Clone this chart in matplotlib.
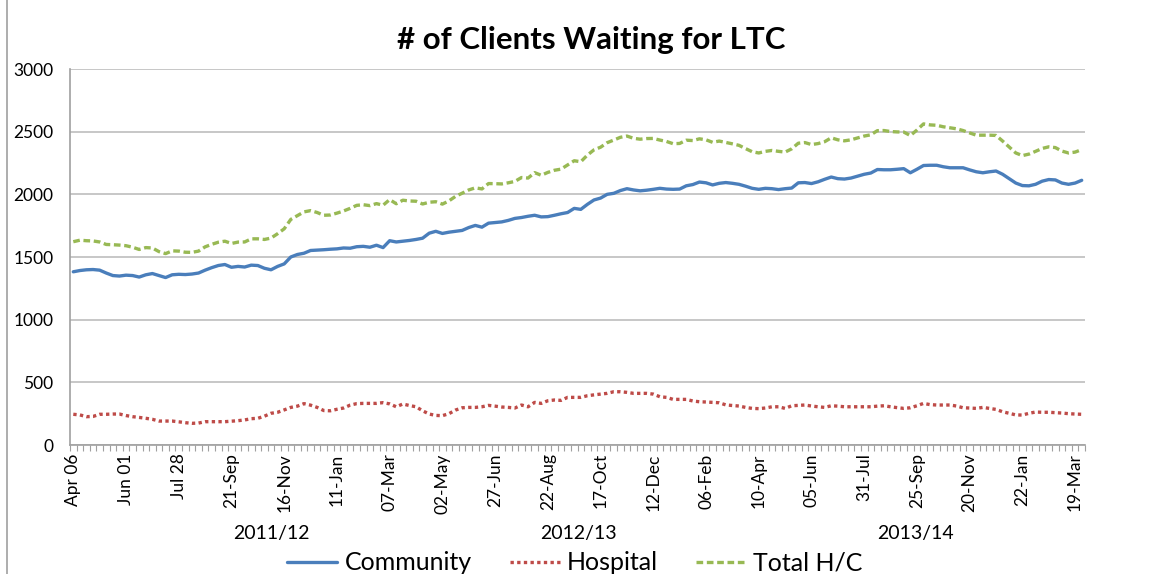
import matplotlib
matplotlib.use("Agg")
import matplotlib.pyplot as plt
from matplotlib.lines import Line2D

plt.rcParams['font.family'] = ['Lato', 'DejaVu Sans']

title = "# of Clients Waiting for LTC"
tick_labels = ["Apr 06", "Jun 01", "Jul 28", "21-Sep", "16-Nov", "11-Jan", "07-Mar",
               "02-May", "27-Jun", "22-Aug", "17-Oct", "12-Dec", "06-Feb", "10-Apr",
               "05-Jun", "31-Jul", "25-Sep", "20-Nov", "22-Jan", "19-Mar"]
label_step = 8
fiscal_years = ["2011/12", "2012/13", "2013/14"]
series_names = ["Community", "Hospital", "Total H/C"]

community = [
    1382, 1392, 1398, 1400, 1395, 1372, 1352, 1348, 1355, 1352,
    1340, 1358, 1368, 1352, 1336, 1358, 1362, 1360, 1364, 1372,
    1395, 1415, 1432, 1440, 1418, 1425, 1420, 1435, 1432, 1410,
    1398, 1425, 1445, 1500, 1520, 1530, 1552, 1555, 1558, 1562,
    1565, 1572, 1570, 1582, 1585, 1578, 1594, 1575, 1630, 1620,
    1626, 1632, 1640, 1650, 1690, 1705, 1688, 1698, 1705, 1712,
    1735, 1752, 1738, 1770, 1775, 1780, 1792, 1808, 1815, 1825,
    1833, 1820, 1822, 1833, 1845, 1855, 1888, 1880, 1920, 1955,
    1970, 2000, 2008, 2030, 2045, 2035, 2028, 2033, 2040, 2048,
    2042, 2040, 2042, 2068, 2078, 2098, 2092, 2075, 2088, 2094,
    2088, 2080, 2065, 2048, 2040, 2048, 2045, 2038, 2045, 2050,
    2092, 2094, 2086, 2100, 2120, 2138, 2125, 2122, 2130, 2145,
    2160, 2170, 2198, 2196, 2196, 2200, 2205, 2172, 2200, 2230,
    2232, 2232, 2220, 2212, 2212, 2212, 2195, 2180, 2172, 2180,
    2186, 2160, 2125, 2090, 2070, 2068, 2080, 2105, 2118, 2115,
    2090, 2080, 2090, 2112,
]

hospital = [
    245, 240, 226, 228, 245, 245, 247, 247, 235, 226,
    220, 213, 205, 191, 191, 191, 185, 178, 173, 175,
    186, 186, 186, 186, 190, 194, 200, 210, 213, 230,
    253, 261, 280, 300, 310, 330, 318, 300, 275, 273,
    285, 295, 318, 330, 332, 332, 332, 338, 328, 305,
    327, 315, 305, 273, 247, 236, 234, 250, 279, 297,
    300, 300, 305, 316, 310, 303, 300, 295, 319, 305,
    340, 332, 353, 359, 356, 380, 380, 380, 393, 400,
    406, 412, 425, 425, 420, 412, 412, 412, 406, 385,
    380, 364, 364, 364, 351, 345, 343, 340, 337, 320,
    315, 311, 300, 292, 290, 295, 305, 305, 292, 313,
    316, 319, 311, 305, 300, 313, 310, 305, 305, 305,
    305, 305, 310, 313, 305, 298, 292, 297, 313, 332,
    322, 319, 319, 319, 311, 297, 295, 292, 300, 292,
    284, 265, 253, 240, 239, 253, 263, 261, 261, 258,
    255, 250, 247, 245,
]

total_hc = [
    1622, 1634, 1630, 1628, 1620, 1600, 1598, 1595, 1590, 1578,
    1560, 1575, 1572, 1543, 1527, 1549, 1547, 1538, 1537, 1547,
    1581, 1601, 1618, 1626, 1608, 1619, 1620, 1645, 1645, 1640,
    1651, 1686, 1725, 1800, 1830, 1860, 1870, 1855, 1833, 1835,
    1850, 1867, 1888, 1912, 1917, 1910, 1926, 1913, 1958, 1925,
    1953, 1947, 1945, 1923, 1937, 1941, 1922, 1948, 1984, 2009,
    2035, 2052, 2043, 2086, 2085, 2083, 2092, 2103, 2134, 2130,
    2173, 2152, 2175, 2192, 2201, 2235, 2268, 2260, 2313, 2355,
    2376, 2412, 2433, 2455, 2465, 2447, 2440, 2445, 2446, 2433,
    2422, 2404, 2406, 2432, 2429, 2443, 2435, 2415, 2425, 2414,
    2403, 2391, 2365, 2340, 2330, 2343, 2350, 2343, 2337, 2363,
    2408, 2413, 2397, 2405, 2420, 2451, 2435, 2427, 2435, 2450,
    2465, 2475, 2508, 2509, 2501, 2498, 2497, 2469, 2513, 2562,
    2554, 2551, 2539, 2531, 2523, 2509, 2490, 2472, 2472, 2472,
    2470, 2425, 2378, 2330, 2309, 2321, 2343, 2366, 2379, 2373,
    2345, 2330, 2337, 2357,
]

W, H = 1169, 574
fig = plt.figure(figsize=(W / 100, H / 100), dpi=100)
ax = fig.add_axes([70 / W, 1 - 445 / H, (1085 - 70) / W, (445 - 69) / H])

n = len(community)
x = list(range(n))
c_blue = "#4A7EBB"
c_red = "#BE4B48"
c_green = "#98B954"

ax.plot(x, community, color=c_blue, lw=2.4, solid_capstyle="round",
        solid_joinstyle="round", label=series_names[0], zorder=3)
ax.plot(x, hospital, color=c_red, lw=2.4, linestyle=(0, (1.0, 1.0)),
        dash_capstyle="butt", label=series_names[1], zorder=3)
ax.plot(x, total_hc, color=c_green, lw=2.4, linestyle=(0, (2.0, 1.1)),
        dash_capstyle="butt", label=series_names[2], zorder=3)

ax.set_xlim(-0.5, n - 0.5)
ax.set_ylim(0, 3000)
ax.set_yticks(range(0, 3001, 500))
ax.yaxis.grid(True, color="#BDBDBD", lw=1.2)
ax.set_axisbelow(True)
ax.tick_params(axis="y", length=0, pad=12, labelsize=12.5, labelcolor="#000000")

major = list(range(0, n, label_step))[:len(tick_labels)]
ax.set_xticks(major)
ax.set_xticklabels(tick_labels, rotation=90, fontsize=12.5)
ax.set_xticks([i - 0.5 for i in range(n + 1)], minor=True)
ax.tick_params(axis="x", which="major", length=0, pad=6)
ax.tick_params(axis="x", which="minor", length=4, color="#A0A0A0", width=0.8)

for s in ["top", "right"]:
    ax.spines[s].set_visible(False)
ax.spines["left"].set_color("#A0A0A0")
ax.spines["bottom"].set_color("#A0A0A0")
ax.spines["left"].set_linewidth(1.2)
ax.spines["bottom"].set_linewidth(1.2)

fig.text(591 / W, 1 - 40 / H, title, ha="center", va="center",
         fontsize=22.5, fontweight="bold")

for name, px in zip(fiscal_years, [271, 578, 915]):
    fig.text(px / W, 1 - 533 / H, name, ha="center", va="center", fontsize=14)

leg = fig.legend(loc="center", bbox_to_anchor=(575 / W, 1 - 563 / H), ncol=3,
                 frameon=False, fontsize=18, handlelength=2.0, columnspacing=1.5,
                 handletextpad=0.3)

fig.add_artist(Line2D([7 / W, 7 / W], [0, 1], color="#A0A0A0", lw=1.2,
                      transform=fig.transFigure))

fig.savefig("out.png", dpi=100)
